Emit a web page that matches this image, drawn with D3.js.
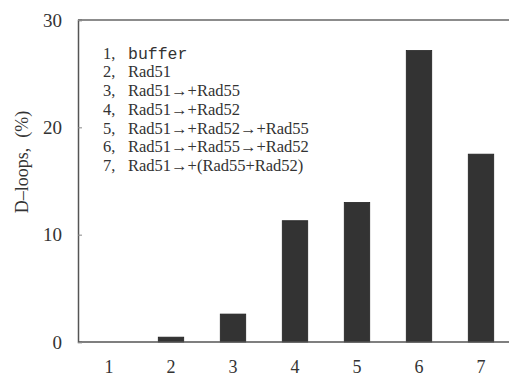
<!DOCTYPE html>
<html><head><meta charset="utf-8">
<script src="https://cdn.jsdelivr.net/npm/d3@7"></script>
<style>body{margin:0;background:#fff}svg{display:block}</style>
</head><body>
<svg id="c" width="509" height="376"></svg>
<script>
const categories = ["1","2","3","4","5","6","7"];
const values = [0, 0.45, 2.6, 11.3, 13.0, 27.15, 17.5];
const yTicks = [0, 10, 20, 30];
const legendNums = ["1,","2,","3,","4,","5,","6,","7,"];
const legendLabels = ["buffer","Rad51","Rad51→+Rad55","Rad51→+Rad52","Rad51→+Rad52→+Rad55","Rad51→+Rad55→+Rad52","Rad51→+(Rad55+Rad52)"];
const yTitleParts = ["D–loops,", "(%)"];

const svg = d3.select("#c");
const L = 78, R = 512, T = 20, B = 342;
const x = d3.scaleBand().domain(categories).range([L, R]).paddingInner(0.59).paddingOuter(0.295);
const y = d3.scaleLinear().domain([0, 30]).range([B, T]);
const font = "'Liberation Serif', serif";

svg.append("g").selectAll("rect").data(values).join("rect")
  .attr("x", (d,i) => x(categories[i]))
  .attr("y", d => y(d))
  .attr("width", x.bandwidth())
  .attr("height", d => B - y(d))
  .attr("fill", "#333")
  .attr("stroke", "#222").attr("stroke-width", 0.8);

svg.append("line").attr("x1", L).attr("x2", 509).attr("y1", T).attr("y2", T).attr("stroke", "#666").attr("stroke-width", 1.5);
svg.append("line").attr("x1", L).attr("x2", 509).attr("y1", B).attr("y2", B).attr("stroke", "#555").attr("stroke-width", 1.5);

const yAxis = d3.axisRight(y).tickValues(yTicks).tickSize(4).tickFormat("");
const gy = svg.append("g").attr("transform", `translate(${L},0)`).call(yAxis);
gy.select(".domain").attr("stroke", "#555").attr("stroke-width", 1.5);
gy.selectAll(".tick line").attr("stroke", "#888");
svg.append("g").selectAll("text").data(yTicks).join("text")
  .attr("x", 62).attr("y", d => y(d)).attr("dy", "0.35em")
  .attr("text-anchor", "end").style("font-family", font).attr("font-size", 19).attr("fill", "#333")
  .text(d => d);

const xAxis = d3.axisBottom(x).tickSize(0).tickPadding(18);
const gx = svg.append("g").attr("transform", `translate(0,${B})`).call(xAxis);
gx.select(".domain").remove();
gx.selectAll("text").style("font-family", font).attr("font-size", 18).attr("fill", "#333");

const tt = svg.append("text").attr("transform", "translate(28,162) rotate(-90)")
  .attr("text-anchor", "middle").style("font-family", font).attr("font-size", 18).attr("fill", "#333");
tt.append("tspan").text(yTitleParts[0]);
tt.append("tspan").attr("dx", 10).text(yTitleParts[1]);

const lg = svg.append("g");
legendLabels.forEach((t, i) => {
  const yy = 53 + i * 18.7;
  lg.append("text").attr("x", 103).attr("y", yy).attr("dy", "0.35em")
    .style("font-family", font).attr("font-size", 16.5).attr("fill", "#333").text(legendNums[i]);
  lg.append("text").attr("x", 128).attr("y", yy).attr("dy", "0.35em")
    .style("font-family", i === 0 ? "'Liberation Mono', monospace" : font).attr("font-size", 16.5).attr("fill", "#333").text(t);
});
</script>
</body></html>
